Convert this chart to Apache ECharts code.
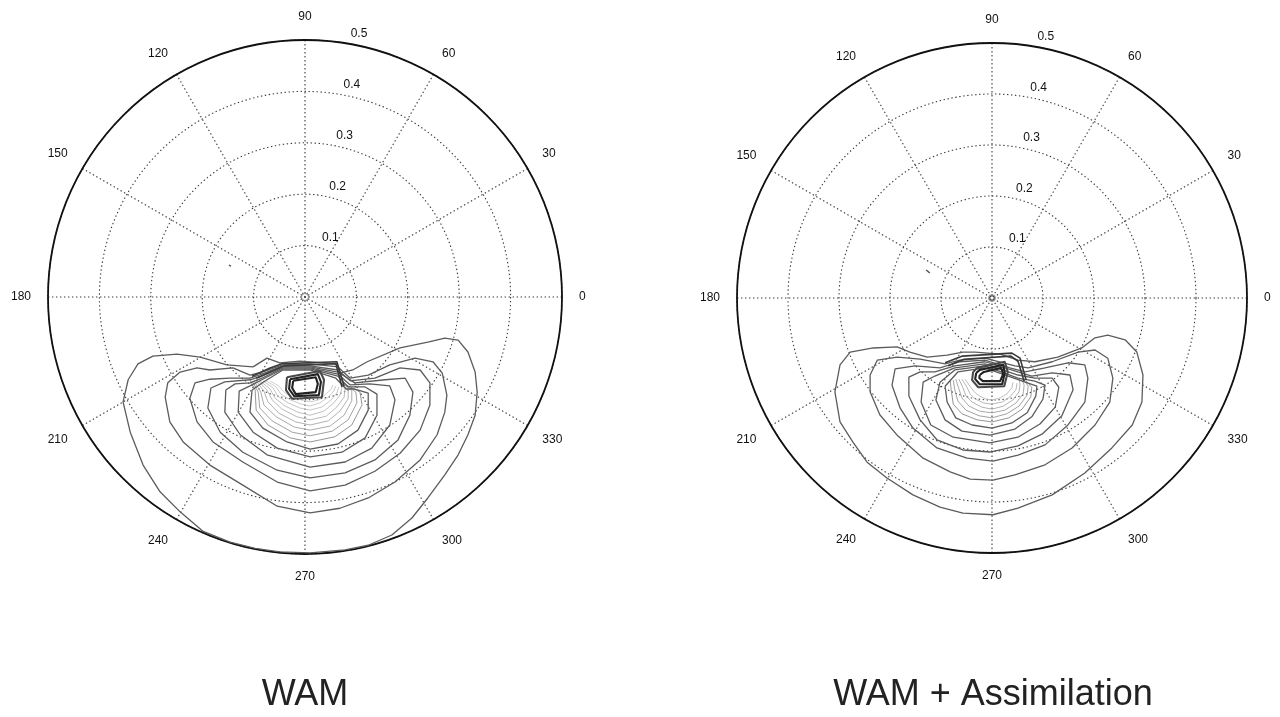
<!DOCTYPE html>
<html>
<head>
<meta charset="utf-8">
<title>WAM directional spectra</title>
<script src="https://cdn.jsdelivr.net/npm/echarts@6/dist/echarts.min.js"></script>
<style>
  html, body { margin: 0; padding: 0; background: #fff; }
  #chart { width: 1280px; height: 717px; }
</style>
</head>
<body>
<div id="chart"></div>
<script>
// direction (deg) and frequency (Hz) axes
const angleMax = 360
const angleStep = 30
const freqMax = 0.5
const freqStep = 0.1
const panelTitles = ['WAM', 'WAM + Assimilation']

// contour lines, every point is [east, north] frequency component in Hz
// --- WAM
const wamOuter = [
  [[-0.101, -0.136], [-0.152, -0.132], [-0.204, -0.117], [-0.249, -0.111], [-0.296, -0.115], [-0.325, -0.130], [-0.344, -0.161], [-0.354, -0.204], [-0.340, -0.263], [-0.315, -0.327], [-0.282, -0.379], [-0.243, -0.418], [-0.198, -0.456], [-0.146, -0.477], [-0.097, -0.489], [-0.049, -0.496], [0.010, -0.498], [0.078, -0.492], [0.123, -0.483], [0.169, -0.463], [0.208, -0.430], [0.239, -0.391], [0.272, -0.346], [0.298, -0.307], [0.317, -0.268], [0.331, -0.230], [0.335, -0.185], [0.331, -0.146], [0.317, -0.107], [0.298, -0.084], [0.272, -0.080], [0.239, -0.088], [0.185, -0.099], [0.121, -0.126], [0.093, -0.142], [0.068, -0.148], [0.062, -0.130], [-0.010, -0.125], [-0.049, -0.128], [-0.074, -0.119]],
  [[-0.107, -0.152], [-0.140, -0.138], [-0.185, -0.142], [-0.210, -0.138], [-0.243, -0.146], [-0.267, -0.167], [-0.272, -0.195], [-0.263, -0.243], [-0.237, -0.282], [-0.185, -0.327], [-0.121, -0.366], [-0.054, -0.407], [0.010, -0.420], [0.068, -0.411], [0.123, -0.391], [0.175, -0.360], [0.224, -0.317], [0.257, -0.268], [0.272, -0.224], [0.276, -0.191], [0.267, -0.148], [0.249, -0.126], [0.214, -0.119], [0.165, -0.132], [0.123, -0.152], [0.088, -0.158], [0.064, -0.136], [0.010, -0.130], [-0.043, -0.132], [-0.084, -0.146]],
  [[-0.107, -0.158], [-0.146, -0.158], [-0.185, -0.160], [-0.214, -0.167], [-0.224, -0.197], [-0.210, -0.243], [-0.179, -0.282], [-0.121, -0.321], [-0.054, -0.360], [0.010, -0.377], [0.078, -0.366], [0.136, -0.339], [0.185, -0.304], [0.224, -0.259], [0.243, -0.210], [0.243, -0.167], [0.224, -0.142], [0.185, -0.138], [0.136, -0.158], [0.088, -0.163], [0.064, -0.142], [0.010, -0.134], [-0.043, -0.134], [-0.084, -0.150]],
  [[-0.107, -0.161], [-0.156, -0.165], [-0.183, -0.177], [-0.189, -0.216], [-0.165, -0.263], [-0.121, -0.302], [-0.054, -0.337], [0.010, -0.352], [0.078, -0.342], [0.136, -0.317], [0.181, -0.278], [0.204, -0.230], [0.210, -0.185], [0.195, -0.158], [0.156, -0.161], [0.097, -0.167], [0.064, -0.146], [0.010, -0.136], [-0.043, -0.136], [-0.084, -0.154]],
  [[-0.107, -0.167], [-0.136, -0.169], [-0.154, -0.181], [-0.156, -0.224], [-0.126, -0.268], [-0.074, -0.307], [0.010, -0.331], [0.078, -0.321], [0.130, -0.294], [0.165, -0.249], [0.175, -0.200], [0.165, -0.173], [0.126, -0.169], [0.088, -0.171], [0.064, -0.150], [0.010, -0.138], [-0.043, -0.138], [-0.084, -0.158]],
  [[-0.107, -0.173], [-0.128, -0.183], [-0.130, -0.224], [-0.101, -0.263], [-0.054, -0.294], [0.010, -0.311], [0.072, -0.302], [0.117, -0.274], [0.140, -0.230], [0.140, -0.189], [0.117, -0.175], [0.084, -0.175], [0.064, -0.154], [0.010, -0.140], [-0.043, -0.140], [-0.084, -0.161]],
  [[-0.103, -0.181], [-0.107, -0.224], [-0.082, -0.255], [-0.035, -0.282], [0.010, -0.296], [0.064, -0.286], [0.103, -0.259], [0.123, -0.220], [0.123, -0.187], [0.097, -0.179], [0.080, -0.179], [0.060, -0.158], [0.010, -0.142], [-0.043, -0.142], [-0.080, -0.165]]
]
const wamInner = [
  [[-0.107, -0.161], [-0.097, -0.181], [-0.095, -0.220], [-0.072, -0.249], [-0.029, -0.274], [0.010, -0.282], [0.058, -0.272], [0.091, -0.249], [0.111, -0.210], [0.107, -0.185], [0.080, -0.171]],
  [[-0.103, -0.163], [-0.091, -0.185], [-0.088, -0.216], [-0.064, -0.241], [-0.025, -0.263], [0.010, -0.270], [0.053, -0.261], [0.084, -0.239], [0.101, -0.206], [0.099, -0.185], [0.078, -0.171]],
  [[-0.099, -0.163], [-0.086, -0.185], [-0.080, -0.210], [-0.056, -0.233], [-0.021, -0.253], [0.010, -0.259], [0.049, -0.251], [0.076, -0.230], [0.091, -0.202], [0.091, -0.183], [0.076, -0.169]],
  [[-0.095, -0.163], [-0.080, -0.183], [-0.072, -0.204], [-0.051, -0.226], [-0.018, -0.243], [0.010, -0.249], [0.045, -0.241], [0.068, -0.222], [0.084, -0.198], [0.084, -0.181], [0.074, -0.169]],
  [[-0.091, -0.163], [-0.074, -0.181], [-0.064, -0.200], [-0.045, -0.218], [-0.016, -0.233], [0.010, -0.239], [0.041, -0.232], [0.062, -0.214], [0.076, -0.195], [0.078, -0.179], [0.072, -0.167]],
  [[-0.088, -0.163], [-0.068, -0.179], [-0.058, -0.197], [-0.039, -0.212], [-0.014, -0.224], [0.010, -0.230], [0.037, -0.222], [0.056, -0.206], [0.068, -0.191], [0.072, -0.177], [0.070, -0.167]],
  [[-0.082, -0.163], [-0.062, -0.177], [-0.053, -0.193], [-0.033, -0.206], [-0.010, -0.216], [0.010, -0.220], [0.033, -0.214], [0.051, -0.200], [0.062, -0.187], [0.066, -0.175]],
  [[-0.076, -0.163], [-0.056, -0.175], [-0.047, -0.189], [-0.029, -0.200], [-0.008, -0.208], [0.010, -0.212], [0.029, -0.206], [0.045, -0.195], [0.056, -0.183], [0.060, -0.173]],
  [[-0.068, -0.163], [-0.051, -0.173], [-0.041, -0.185], [-0.025, -0.195], [-0.006, -0.200], [0.010, -0.204], [0.027, -0.200], [0.041, -0.189], [0.051, -0.179], [0.054, -0.171]]
]
const wamPeak = [
  [[-0.035, -0.156], [0.029, -0.144], [0.037, -0.161], [0.033, -0.195], [-0.025, -0.198], [-0.037, -0.181]],
  [[-0.029, -0.160], [0.025, -0.150], [0.031, -0.165], [0.027, -0.191], [-0.021, -0.193], [-0.031, -0.179]],
  [[-0.023, -0.163], [0.021, -0.156], [0.025, -0.169], [0.021, -0.185], [-0.018, -0.189], [-0.025, -0.177]]
]
const wamRidge = [
  [[-0.103, -0.154], [-0.068, -0.138], [-0.045, -0.130], [0.062, -0.126], [0.076, -0.173]],
  [[-0.095, -0.158], [-0.041, -0.134], [0.060, -0.130], [0.072, -0.175]]
]
const wamSpot = [[-0.148, 0.062], [-0.144, 0.060]]

// --- WAM + Assimilation
const assimOuter = [
  [[-0.057, -0.106], [-0.088, -0.112], [-0.127, -0.116], [-0.161, -0.106], [-0.186, -0.096], [-0.233, -0.098], [-0.278, -0.106], [-0.298, -0.131], [-0.308, -0.184], [-0.298, -0.243], [-0.273, -0.282], [-0.245, -0.322], [-0.206, -0.353], [-0.155, -0.386], [-0.102, -0.410], [-0.057, -0.422], [0.002, -0.425], [0.051, -0.412], [0.118, -0.386], [0.182, -0.343], [0.235, -0.294], [0.275, -0.249], [0.294, -0.204], [0.296, -0.151], [0.284, -0.106], [0.261, -0.082], [0.227, -0.073], [0.202, -0.078], [0.176, -0.098], [0.129, -0.116], [0.084, -0.125], [0.051, -0.122], [0.016, -0.110], [-0.033, -0.106]],
  [[-0.092, -0.129], [-0.141, -0.120], [-0.186, -0.116], [-0.225, -0.122], [-0.239, -0.151], [-0.239, -0.184], [-0.220, -0.229], [-0.186, -0.269], [-0.135, -0.314], [-0.082, -0.341], [-0.043, -0.355], [0.002, -0.357], [0.045, -0.347], [0.104, -0.327], [0.157, -0.294], [0.202, -0.249], [0.231, -0.204], [0.237, -0.157], [0.227, -0.118], [0.202, -0.102], [0.169, -0.106], [0.118, -0.125], [0.071, -0.137], [0.045, -0.133], [-0.014, -0.118], [-0.063, -0.122]],
  [[-0.102, -0.137], [-0.151, -0.133], [-0.190, -0.139], [-0.196, -0.171], [-0.180, -0.216], [-0.155, -0.255], [-0.108, -0.294], [-0.049, -0.314], [0.002, -0.320], [0.051, -0.308], [0.104, -0.288], [0.149, -0.249], [0.182, -0.204], [0.188, -0.157], [0.182, -0.131], [0.149, -0.127], [0.104, -0.137], [0.065, -0.145], [0.035, -0.137], [-0.014, -0.122], [-0.063, -0.125]],
  [[-0.112, -0.145], [-0.141, -0.145], [-0.163, -0.155], [-0.163, -0.192], [-0.141, -0.239], [-0.108, -0.278], [-0.057, -0.298], [-0.004, -0.302], [0.051, -0.290], [0.098, -0.267], [0.137, -0.231], [0.159, -0.180], [0.153, -0.151], [0.118, -0.147], [0.078, -0.153], [0.051, -0.145], [-0.014, -0.125], [-0.073, -0.133]],
  [[-0.112, -0.153], [-0.135, -0.165], [-0.139, -0.204], [-0.120, -0.249], [-0.076, -0.273], [-0.004, -0.284], [0.051, -0.273], [0.094, -0.247], [0.124, -0.214], [0.131, -0.175], [0.118, -0.157], [0.084, -0.157], [0.051, -0.151], [-0.014, -0.129], [-0.073, -0.137]],
  [[-0.102, -0.165], [-0.110, -0.200], [-0.092, -0.239], [-0.059, -0.261], [-0.004, -0.269], [0.045, -0.257], [0.078, -0.233], [0.100, -0.198], [0.104, -0.171], [0.084, -0.163], [0.051, -0.157], [-0.014, -0.133], [-0.073, -0.141]],
  [[-0.092, -0.173], [-0.088, -0.204], [-0.071, -0.235], [-0.039, -0.249], [0.000, -0.255], [0.039, -0.245], [0.069, -0.225], [0.086, -0.192], [0.088, -0.173], [0.065, -0.165], [-0.014, -0.137], [-0.067, -0.145]]
]
const assimInner = [
  [[-0.082, -0.161], [-0.080, -0.180], [-0.076, -0.208], [-0.059, -0.227], [-0.029, -0.239], [0.000, -0.243], [0.033, -0.235], [0.059, -0.218], [0.076, -0.194], [0.078, -0.175], [0.067, -0.163]],
  [[-0.076, -0.161], [-0.073, -0.180], [-0.067, -0.202], [-0.051, -0.220], [-0.025, -0.231], [0.000, -0.235], [0.029, -0.227], [0.053, -0.212], [0.069, -0.190], [0.071, -0.173], [0.063, -0.161]],
  [[-0.071, -0.159], [-0.065, -0.178], [-0.059, -0.196], [-0.045, -0.212], [-0.024, -0.222], [0.000, -0.225], [0.025, -0.220], [0.047, -0.206], [0.061, -0.188], [0.063, -0.171], [0.059, -0.159]],
  [[-0.065, -0.159], [-0.057, -0.176], [-0.051, -0.192], [-0.039, -0.204], [-0.020, -0.214], [0.000, -0.218], [0.022, -0.212], [0.041, -0.200], [0.053, -0.184], [0.055, -0.169], [0.053, -0.159]],
  [[-0.059, -0.159], [-0.049, -0.175], [-0.043, -0.188], [-0.033, -0.198], [-0.016, -0.206], [0.000, -0.208], [0.020, -0.204], [0.035, -0.194], [0.047, -0.180], [0.049, -0.167]],
  [[-0.053, -0.159], [-0.043, -0.173], [-0.035, -0.184], [-0.025, -0.192], [-0.012, -0.198], [0.000, -0.200], [0.016, -0.196], [0.029, -0.188], [0.039, -0.176], [0.041, -0.165]]
]
const assimPeak = [
  [[-0.037, -0.145], [-0.029, -0.137], [0.025, -0.125], [0.031, -0.145], [0.024, -0.173], [-0.027, -0.175], [-0.039, -0.161]],
  [[-0.031, -0.147], [-0.024, -0.141], [0.022, -0.131], [0.025, -0.147], [0.020, -0.169], [-0.024, -0.169], [-0.033, -0.159]],
  [[-0.024, -0.151], [-0.016, -0.145], [0.018, -0.137], [0.022, -0.149], [0.016, -0.163], [-0.018, -0.163], [-0.025, -0.157]]
]
const assimRidge = [
  [[-0.092, -0.127], [-0.059, -0.114], [0.039, -0.108], [0.055, -0.118], [0.067, -0.161]],
  [[-0.086, -0.133], [-0.055, -0.120], [0.037, -0.114], [0.051, -0.124], [0.063, -0.163]]
]
const assimSpot = [[-0.129, 0.055], [-0.122, 0.049]]

const origin = [[0, 0]]

// layout of the two panels
const panels = [
  { center: [305, 297], radius: 257, titleLeft: 300, titleTop: 672 },
  { center: [992, 298], radius: 255, titleLeft: 988, titleTop: 672 }
]
const innerGreys = ['#8a8a8a', '#969696', '#a0a0a0', '#a9a9a9', '#b1b1b1', '#b8b8b8', '#bebebe', '#c4c4c4', '#c9c9c9']
const font = 'Liberation Sans, Arial, sans-serif'
const dotted = [1.4, 2.6]

function toPolar(p) {
  const r = Math.hypot(p[0], p[1])
  const a = (Math.atan2(p[1], p[0]) * 180 / Math.PI + 360) % 360
  return [r, a]
}

function lines(list, polarIndex, closed, styleOf, z) {
  return list.map((pts, i) => ({
    type: 'line',
    coordinateSystem: 'polar',
    polarIndex,
    data: (closed ? pts.concat([pts[0]]) : pts).map(toPolar),
    symbol: 'none',
    clip: false,
    silent: true,
    animation: false,
    z,
    lineStyle: styleOf(i)
  }))
}

function panelSeries(idx, outer, inner, peak, ridge, spot) {
  return [].concat(
    lines(inner, idx, false, i => ({ color: innerGreys[i], width: 0.9 }), 3),
    lines(outer, idx, true, () => ({ color: '#5c5c5c', width: 1.3 }), 4),
    lines(ridge, idx, false, () => ({ color: '#3a3a3a', width: 1.6 }), 5),
    lines(peak, idx, true, i => ({ color: i === 0 ? '#4a4a4a' : '#222', width: 2.1 }), 6),
    lines([spot], idx, false, () => ({ color: '#555', width: 1.5 }), 6),
    [{
      type: 'scatter',
      coordinateSystem: 'polar',
      polarIndex: idx,
      data: origin,
      symbol: 'circle',
      symbolSize: 7,
      silent: true,
      animation: false,
      itemStyle: { color: 'transparent', borderColor: '#777', borderWidth: 1 }
    }]
  )
}

const chart = echarts.init(document.getElementById('chart'))

chart.setOption({
  backgroundColor: '#fff',
  title: panelTitles.map((t, i) => ({
    text: t,
    left: panels[i].titleLeft,
    top: panels[i].titleTop,
    textAlign: 'center',
    textStyle: { fontFamily: font, fontSize: 36, fontWeight: 'normal', color: '#222' }
  })),
  // two visible polars plus two overlays carrying the frequency labels
  polar: [
    { center: panels[0].center, radius: panels[0].radius },
    { center: panels[1].center, radius: panels[1].radius },
    { center: panels[0].center, radius: panels[0].radius },
    { center: panels[1].center, radius: panels[1].radius }
  ],
  angleAxis: [0, 1].map(i => ({
    polarIndex: i,
    type: 'value',
    min: 0,
    max: angleMax,
    interval: angleStep,
    startAngle: 0,
    clockwise: false,
    axisLine: { show: true, lineStyle: { color: '#111', width: 1.8 } },
    axisTick: { show: false },
    axisLabel: {
      margin: 17,
      fontFamily: font,
      fontSize: 12,
      color: '#111',
      formatter: v => (v === angleMax ? '' : String(v))
    },
    splitLine: { show: true, lineStyle: { color: '#3a3a3a', width: 1.1, type: dotted } }
  })).concat([2, 3].map(i => ({
    polarIndex: i,
    type: 'value',
    min: 0,
    max: angleMax,
    startAngle: 82,
    clockwise: false,
    show: false
  }))),
  radiusAxis: [0, 1].map(i => ({
    polarIndex: i,
    type: 'value',
    min: 0,
    max: freqMax,
    interval: freqStep,
    axisLine: { show: false },
    axisTick: { show: false },
    axisLabel: { show: false },
    splitLine: { show: true, lineStyle: { color: '#3a3a3a', width: 1.1, type: dotted } }
  })).concat([2, 3].map(i => ({
    polarIndex: i,
    type: 'value',
    min: 0,
    max: freqMax,
    interval: freqStep,
    axisLine: { show: false },
    axisTick: { show: false },
    splitLine: { show: false },
    axisLabel: {
      showMinLabel: false,
      margin: -10,
      align: 'left',
      verticalAlign: 'bottom',
      padding: [0, 0, 4, 0],
      fontFamily: font,
      fontSize: 12,
      color: '#111',
      formatter: v => v.toFixed(1)
    }
  }))),
  series: [].concat(
    panelSeries(0, wamOuter, wamInner, wamPeak, wamRidge, wamSpot),
    panelSeries(1, assimOuter, assimInner, assimPeak, assimRidge, assimSpot)
  )
})
</script>
</body>
</html>
